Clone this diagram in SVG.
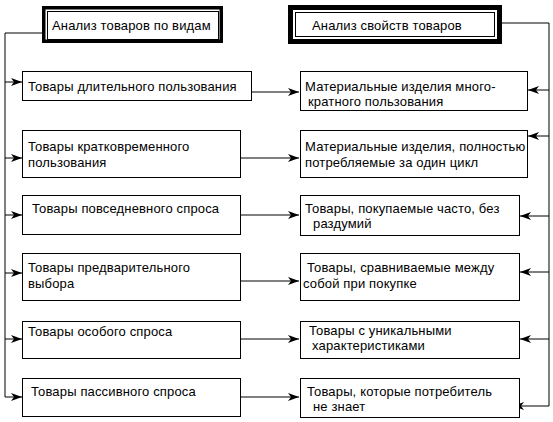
<svg xmlns="http://www.w3.org/2000/svg" width="553" height="422" viewBox="0 0 553 422">
<style>
.box{fill:#fff;stroke:#000;stroke-width:1}
.t{font-family:"Liberation Sans",Arial,sans-serif;font-size:13px;letter-spacing:0.15px;fill:#000}
.c{fill:none;stroke:#000;stroke-width:1}
.a{fill:none;stroke:#000;stroke-width:1;marker-end:url(#ah)}
</style>
<defs>
<marker id="ah" markerUnits="userSpaceOnUse" markerWidth="12" markerHeight="10" refX="11" refY="4" orient="auto">
<path d="M0,0 L11,4 L0,8 L3,4 z" fill="#000"/>
</marker>
</defs>
<rect width="553" height="422" fill="#fff"/>
<g id="connectors">
<polyline class="c" points="42,33 5,33 5,397"/>
<line class="a" x1="5" y1="82" x2="22" y2="82"/>
<line class="a" x1="5" y1="158" x2="22" y2="158"/>
<line class="a" x1="5" y1="215" x2="22" y2="215"/>
<line class="a" x1="5" y1="273" x2="22" y2="273"/>
<line class="a" x1="5" y1="339" x2="22" y2="339"/>
<line class="a" x1="5" y1="397" x2="22" y2="397"/>
<polyline class="c" points="502,23 549,23 549,406"/>
<line class="a" x1="549" y1="90" x2="528" y2="90"/>
<line class="a" x1="549" y1="136" x2="528" y2="136"/>
<line class="a" x1="549" y1="216" x2="520" y2="216"/>
<line class="a" x1="549" y1="272" x2="520" y2="272"/>
<line class="a" x1="549" y1="339" x2="520" y2="339"/>
<line class="a" x1="549" y1="406" x2="513" y2="406"/>
<line class="a" x1="252" y1="92" x2="299" y2="92"/>
<line class="a" x1="241" y1="158" x2="299" y2="158"/>
<line class="a" x1="241" y1="215" x2="299" y2="215"/>
<line class="a" x1="241" y1="281" x2="299" y2="281"/>
<line class="a" x1="241" y1="339" x2="299" y2="339"/>
<line class="a" x1="241" y1="397" x2="299" y2="397"/>
</g>
<g id="title-left">
<rect x="43.75" y="7.75" width="177.5" height="33.5" fill="#fff" stroke="#000" stroke-width="3.5"/>
<rect x="47.5" y="11.5" width="171" height="28" fill="none" stroke="#000" stroke-width="1"/>
<text class="t" x="52" y="30">Анализ товаров по видам</text>
</g>
<g id="title-right">
<rect x="290.5" y="7.5" width="209" height="34" fill="#fff" stroke="#000" stroke-width="5"/>
<rect x="295.5" y="12.5" width="199" height="24" fill="none" stroke="#000" stroke-width="1"/>
<text class="t" x="312" y="30">Анализ свойств товаров</text>
</g>
<g id="l1"><rect class="box" x="22.5" y="71.5" width="229" height="29"/><text class="t" x="28" y="91">Товары длительного пользования</text></g>
<g id="l2"><rect class="box" x="22.5" y="130.5" width="218" height="47"/><text class="t" x="28" y="151">Товары кратковременного</text><text class="t" x="28" y="167">пользования</text></g>
<g id="l3"><rect class="box" x="22.5" y="195.5" width="218" height="39"/><text class="t" x="32" y="213">Товары повседневного спроса</text></g>
<g id="l4"><rect class="box" x="22.5" y="253.5" width="218" height="47"/><text class="t" x="28" y="272">Товары предварительного</text><text class="t" x="28" y="288">выбора</text></g>
<g id="l5"><rect class="box" x="22.5" y="321.5" width="218" height="37"/><text class="t" x="28" y="336">Товары особого спроса</text></g>
<g id="l6"><rect class="box" x="22.5" y="378.5" width="218" height="38"/><text class="t" x="31" y="396">Товары пассивного спроса</text></g>
<g id="r1"><rect class="box" x="300.5" y="71.5" width="227" height="39"/><text class="t" x="305" y="91">Материальные изделия много-</text><text class="t" x="308" y="106">кратного пользования</text></g>
<g id="r2"><rect class="box" x="300.5" y="130.5" width="227" height="47"/><text class="t" x="305" y="151">Материальные изделия, полностью</text><text class="t" x="305" y="167">потребляемые за один цикл</text></g>
<g id="r3"><rect class="box" x="300.5" y="195.5" width="219" height="40"/><text class="t" x="305" y="213">Товары, покупаемые часто, без</text><text class="t" x="313" y="228">раздумий</text></g>
<g id="r4"><rect class="box" x="300.5" y="253.5" width="219" height="47"/><text class="t" x="307" y="272">Товары, сравниваемые между</text><text class="t" x="303" y="288">собой при покупке</text></g>
<g id="r5"><rect class="box" x="300.5" y="321.5" width="219" height="37"/><text class="t" x="309" y="335">Товары с уникальными</text><text class="t" x="312" y="350">характеристиками</text></g>
<g id="r6"><rect class="box" x="300.5" y="378.5" width="219" height="39"/><text class="t" x="307" y="396">Товары, которые потребитель</text><text class="t" x="313" y="411">не знает</text></g>
</svg>
